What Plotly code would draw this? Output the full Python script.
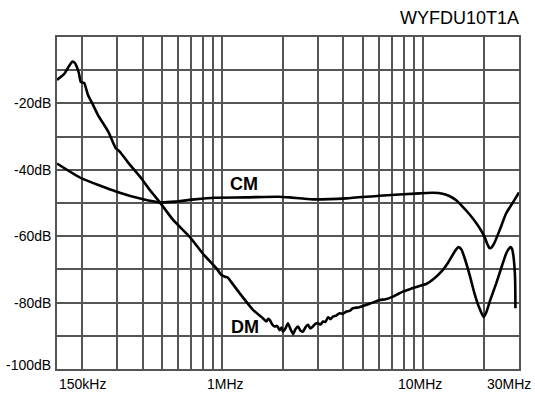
import math
import plotly.graph_objects as go

# Differential-mode attenuation (frequency in MHz, level in dB)
dm_freq = [0.150, 0.157, 0.164, 0.172, 0.179, 0.184, 0.188, 0.193, 0.197, 0.205,
           0.214, 0.227, 0.240, 0.270, 0.294, 0.308, 0.340, 0.395, 0.435, 0.488,
           0.568, 0.687, 0.80, 0.934, 0.989, 1.03, 1.066, 1.10, 1.219, 1.42,
           1.59, 1.655, 1.69, 1.72, 1.77, 1.82, 1.87, 1.93, 1.97, 2.00,
           2.06, 2.12, 2.18, 2.25, 2.31, 2.38, 2.45, 2.52, 2.60, 2.67,
           2.74, 2.82, 2.90, 2.99, 3.08, 3.17, 3.26, 3.36, 3.45, 3.55,
           3.69, 3.83, 3.98, 4.14, 4.30, 4.46, 4.8, 5.2, 5.6, 6.06,
           6.5, 7.06, 7.5, 7.92, 8.7, 9.59, 10.35, 11.3, 12.5, 13.3,
           14.0, 14.5, 15.0, 15.5, 16.0, 17.0, 18.0, 19.0, 20.0, 20.6,
           21.5, 23.1, 24.5, 25.9, 26.7, 27.2, 27.7, 28.1, 28.5, 28.7, 28.8]
dm_db = [-12.9, -12.0, -10.9, -8.8, -7.4, -7.8, -8.9, -11.0, -13.5, -13.9,
         -17.5, -20.5, -23.5, -28.5, -33.5, -34.5, -37.9, -42.6, -46.1, -49.8,
         -55.1, -60.2, -65.3, -69.7, -71.7, -72.2, -72.5, -73.6, -77.2, -82.2,
         -84.7, -85.7, -84.9, -85.2, -86.6, -87.2, -87.0, -88.3, -87.5, -88.7,
         -87.8, -86.2, -87.9, -89.5, -88.0, -87.2, -88.5, -88.7, -87.3, -86.7,
         -87.8, -87.2, -86.4, -86.2, -86.6, -85.7, -85.8, -84.4, -85.0, -84.2,
         -83.9, -83.2, -83.4, -82.7, -82.5, -81.7, -81.4, -80.7, -80.0, -79.2,
         -79.0, -78.2, -77.4, -76.7, -75.8, -75.0, -74.4, -72.8, -70.2, -68.0,
         -65.7, -64.2, -63.3, -64.0, -66.2, -71.5, -77.2, -81.5, -84.4, -83.0,
         -79.5, -74.2, -69.5, -65.2, -63.8, -63.3, -63.8, -65.7, -69.5, -73.2, -81.7]

# Common-mode attenuation
cm_freq = [0.150, 0.199, 0.297, 0.403, 0.488, 0.579, 0.728, 0.916, 1.3, 1.9,
           2.16, 2.82, 4.14, 6.06, 9.59, 11.2, 12.5, 13.5, 14.6, 15.7,
           17.0, 18.4, 19.4, 20.2, 20.9, 21.4, 21.9, 22.6, 24.2, 25.9,
           28.0, 30.0]
cm_db = [-38.1, -42.6, -46.6, -48.9, -49.8, -49.6, -48.9, -48.4, -48.3, -48.1,
         -48.3, -48.9, -48.6, -47.8, -47.1, -46.9, -47.2, -47.9, -49.2, -51.1,
         -53.4, -56.1, -58.2, -60.2, -62.5, -63.6, -63.4, -62.1, -57.7, -53.1,
         -49.8, -46.8]

# Axis labels
x_grid = [0.2, 0.3, 0.4, 0.5, 0.6, 0.7, 0.8, 0.9, 1, 2, 3, 4, 5, 6, 7, 8, 9, 10, 20, 30]
x_labels = [(0.15, "150kHz", 25), (1, "1MHz", 3), (10, "10MHz", -3), (30, "30MHz", -10)]
y_labels = [-20, -40, -60, -80, -100]
title_text = "WYFDU10T1A"

FONT = "Liberation Sans, Arial, Helvetica, sans-serif"
GRID = "#555555"

fig = go.Figure()
for fx, fy in ((cm_freq, cm_db), (dm_freq, dm_db)):
    fig.add_trace(go.Scatter(
        x=fx, y=fy, mode="lines",
        line=dict(color="black", width=2.6, shape="spline", smoothing=0.5),
        showlegend=False, hoverinfo="skip"))

fig.update_xaxes(
    type="log", range=[math.log10(0.15), math.log10(30)],
    tickvals=x_grid, showticklabels=False, ticks="",
    showgrid=True, gridcolor=GRID, gridwidth=1.5,
    showline=True, linecolor=GRID, linewidth=1.5, mirror=True, zeroline=False)
fig.update_yaxes(
    range=[-100, 0], tickvals=list(range(-100, 1, 10)), showticklabels=False, ticks="",
    showgrid=True, gridcolor=GRID, gridwidth=1.5,
    showline=True, linecolor=GRID, linewidth=1.5, mirror=True, zeroline=False)

annotations = []
for val, txt, shift in x_labels:
    annotations.append(dict(
        x=math.log10(val), y=0, xref="x", yref="paper", text=txt, showarrow=False,
        xanchor="center", yanchor="top", xshift=shift, yshift=-5,
        font=dict(family=FONT, size=14, color="black")))
for val in y_labels:
    annotations.append(dict(
        x=0, y=val, xref="paper", yref="y", text=f"{val}dB", showarrow=False,
        xanchor="right", yanchor="middle", xshift=-4,
        yshift=4 if val == -100 else 0,
        font=dict(family=FONT, size=14, color="black")))
annotations.append(dict(
    x=1, y=1, xref="paper", yref="paper", text=title_text, showarrow=False,
    xanchor="right", yanchor="middle", xshift=2, yshift=19,
    font=dict(family=FONT, size=18, color="black")))
annotations.append(dict(
    x=math.log10(1.276), y=-44.2, xref="x", yref="y", text="<b>CM</b>", showarrow=False,
    xanchor="center", yanchor="middle",
    font=dict(family=FONT, size=18, color="black")))
annotations.append(dict(
    x=math.log10(1.29), y=-87.4, xref="x", yref="y", text="<b>DM</b>", showarrow=False,
    xanchor="center", yanchor="middle",
    font=dict(family=FONT, size=18, color="black")))

fig.update_layout(
    width=535, height=395,
    margin=dict(l=57, r=16, t=37, b=26),
    paper_bgcolor="white", plot_bgcolor="white",
    annotations=annotations)

fig.write_html("out.html")
